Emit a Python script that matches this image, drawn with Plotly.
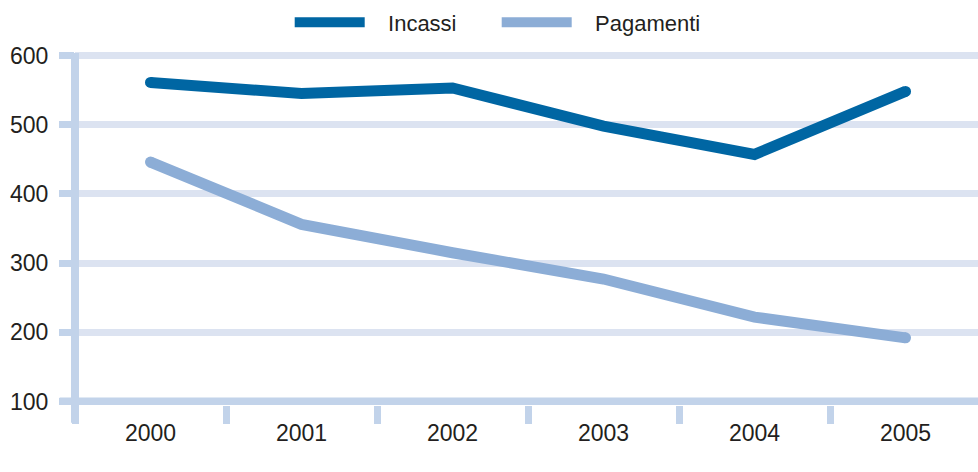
import plotly.graph_objects as go

# Annual flows (values read on a 100-600 scale)
years = ["2000", "2001", "2002", "2003", "2004", "2005"]
incassi = [561, 545, 553, 498, 457, 548]
pagamenti = [446, 356, 315, 277, 222, 192]
y_ticks = [100, 200, 300, 400, 500, 600]

DARK = "#0066a3"
LIGHT = "#8cadd6"
AXIS = "#c2d3ea"
GRID = "#dce3f1"
FONT = "Liberation Sans, Arial, Helvetica, sans-serif"
LW = 11
PAD = "\u00a0\u00a0\u00a0"  # gap between legend sample and label

fig = go.Figure()
for name, vals, col in [("Incassi", incassi, DARK), ("Pagamenti", pagamenti, LIGHT)]:
    fig.add_trace(go.Scatter(x=years, y=vals, name=PAD + name, mode="lines",
                             line=dict(color=col, width=LW)))
    # round caps at the two ends of each line
    fig.add_trace(go.Scatter(x=[years[0], years[-1]], y=[vals[0], vals[-1]],
                             mode="markers", showlegend=False, hoverinfo="skip",
                             marker=dict(color=col, size=LW, line=dict(width=0))))

# vertical axis bar and the baseline at 100
fig.add_shape(type="line", xref="paper", yref="paper", x0=0, x1=0,
              y0=-0.05, y1=0.997, line=dict(color=AXIS, width=8), layer="above")
fig.add_shape(type="line", xref="paper", yref="y", x0=-0.017, x1=1,
              y0=100, y1=100, line=dict(color=AXIS, width=8), layer="above")

fig.update_layout(
    width=978, height=472,
    margin=dict(l=75, r=0, t=52, b=67),
    paper_bgcolor="white", plot_bgcolor="white",
    font=dict(family=FONT, size=23, color="#231f20"),
    showlegend=True,
    legend=dict(orientation="h", x=0.467, xanchor="center", y=0.997, yanchor="top",
                yref="container", font=dict(size=22),
                itemwidth=70, entrywidth=122, traceorder="normal"),
    xaxis=dict(type="category", range=[-0.5, 5.48], tickson="boundaries",
               showgrid=False, zeroline=False, showline=False,
               ticks="outside", ticklen=18, tickwidth=7, tickcolor=AXIS,
               ticklabelstandoff=12),
    yaxis=dict(range=[95, 605], tickvals=y_ticks, showgrid=True,
               gridcolor=GRID, gridwidth=7, zeroline=False, showline=False,
               ticks="outside", ticklen=15, tickwidth=7, tickcolor=AXIS,
               ticklabelstandoff=6),
)

fig.write_html("out.html")
